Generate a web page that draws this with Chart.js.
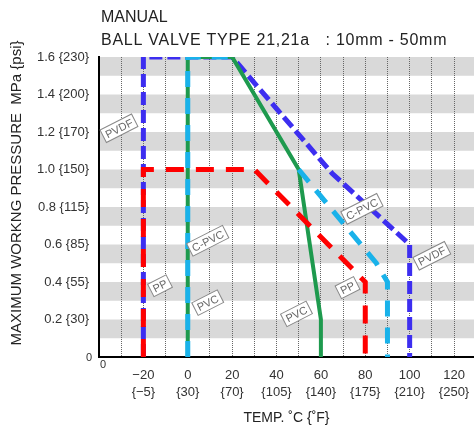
<!DOCTYPE html>
<html>
<head>
<meta charset="utf-8">
<script src="https://cdn.jsdelivr.net/npm/chart.js@4.4.1/dist/chart.umd.min.js"></script>
<style>
  html, body { margin: 0; padding: 0; background: #fff; }
  #wrap { width: 474px; height: 428px; }
</style>
</head>
<body>
<div id="wrap"><canvas id="chart"></canvas></div>
<script>
// breakpoints: temperature (C) and pressure (MPa)
const ppTemp = [-20, -20, 30, 80, 80];
const ppPress = [0, 1.0, 1.0, 0.4, 0];
// C-PVC runs under the PVC line between 20 and 50 C, so it has a gap there
const cpvcTemp = [0, 0, 20, 35, 50, 85, 90, 90];
const cpvcPress = [0, 1.6, 1.6, null, 1.0, 0.5, 0.4, 0];
const pvcTemp = [0, 0, 20, 50, 60, 60];
const pvcPress = [0, 1.6, 1.6, 1.0, 0.2, 0];
const pvdfTemp = [-20, -20, 20, 65, 100, 100];
const pvdfPress = [0, 1.6, 1.6, 0.98, 0.6, 0];

const yTicks = [0.2, 0.4, 0.6, 0.8, 1.0, 1.2, 1.4, 1.6];
const yTickLabels = ['0.2 {30}', '0.4 {55}', '0.6 {85}', '0.8 {115}', '1.0 {150}', '1.2 {170}', '1.4 {200}', '1.6 {230}'];
const xTicks = [-20, 0, 20, 40, 60, 80, 100, 120];
const xTickF = ['{−5}', '{30}', '{70}', '{105}', '{140}', '{175}', '{210}', '{250}'];

// material tags placed next to the curves
const tagNames = ['PVDF', 'C-PVC', 'PP', 'PVC', 'PVC', 'PP', 'C-PVC', 'PVDF'];
const tagTemp = [-31, 9, -12.5, 9, 49, 72, 78.5, 110];
const tagPress = [1.22, 0.62, 0.38, 0.29, 0.23, 0.37, 0.79, 0.54];

const FONT = "'Liberation Sans', Arial, sans-serif";

function pts(xs, ys) {
    return xs.map((x, i) => ({ x: x, y: ys[i] }));
}

// grey stripes: each 0.2 step, the upper half
const bands = {
    id: 'bands',
    beforeDraw(chart) {
        const { ctx, chartArea: a, scales: { y } } = chart;
        ctx.save();
        ctx.fillStyle = '#d9d9d9';
        yTicks.forEach(v => {
            const t = y.getPixelForValue(v);
            const b = y.getPixelForValue(v - 0.1);
            ctx.fillRect(a.left, t, a.right - a.left, b - t);
        });
        ctx.restore();
    }
};

const tags = {
    id: 'tags',
    afterDatasetsDraw(chart) {
        const { ctx, scales: { x, y } } = chart;
        ctx.save();
        ctx.font = '11px ' + FONT;
        ctx.textAlign = 'center';
        ctx.textBaseline = 'middle';
        tagNames.forEach((name, i) => {
            const px = x.getPixelForValue(tagTemp[i]);
            const py = y.getPixelForValue(tagPress[i]);
            const w = ctx.measureText(name).width + 6;
            const h = 14;
            ctx.save();
            ctx.translate(px, py);
            ctx.rotate(-27 * Math.PI / 180);
            ctx.fillStyle = '#fff';
            ctx.fillRect(-w / 2, -h / 2, w, h);
            ctx.strokeStyle = '#888';
            ctx.lineWidth = 1;
            ctx.strokeRect(-w / 2, -h / 2, w, h);
            ctx.fillStyle = '#666';
            ctx.fillText(name, 0, 1);
            ctx.restore();
        });
        ctx.restore();
    }
};

const texts = {
    id: 'texts',
    afterDraw(chart) {
        const { ctx, chartArea: a } = chart;
        ctx.save();
        ctx.fillStyle = '#222';
        ctx.textBaseline = 'alphabetic';
        ctx.textAlign = 'left';
        ctx.font = '16px ' + FONT;
        ctx.fillText('MANUAL', a.left + 2, 22);
        ctx.letterSpacing = '0.75px';
        ctx.fillText('BALL VALVE TYPE 21,21a   : 10mm - 50mm', a.left + 2, 45);
        ctx.letterSpacing = '0px';

        ctx.font = '14px ' + FONT;
        ctx.textAlign = 'center';
        ctx.textBaseline = 'middle';
        ctx.fillText('TEMP. ˚C {˚F}', (a.left + a.right) / 2, 418);

        ctx.save();
        ctx.translate(17, 193);
        ctx.rotate(-Math.PI / 2);
        ctx.font = '15px ' + FONT;
        ctx.fillText('MAXIMUM WORKNG PRESSURE  MPa {psi}', 0, 0);
        ctx.restore();

        // the two small zeros at the origin
        ctx.font = '11px ' + FONT;
        ctx.fillStyle = '#333';
        ctx.fillText('0', 89, 358);
        ctx.fillText('0', 103, 365);
        ctx.restore();
    }
};

new Chart(document.getElementById('chart'), {
    type: 'line',
    data: {
        datasets: [
            { label: 'PP', data: pts(ppTemp, ppPress), borderColor: '#ff0000', borderWidth: 5, borderDash: [18, 12] },
            { label: 'C-PVC', data: pts(cpvcTemp, cpvcPress), borderColor: '#19b2ea', borderWidth: 5, borderDash: [16, 11], spanGaps: false },
            { label: 'PVC', data: pts(pvcTemp, pvcPress), borderColor: '#1e9a4e', borderWidth: 4 },
            { label: 'PVDF', data: pts(pvdfTemp, pvdfPress), borderColor: '#3d2ef0', borderWidth: 5, borderDash: [13, 5] }
        ]
    },
    options: {
        responsive: true,
        maintainAspectRatio: false,
        animation: false,
        layout: { padding: { top: 57, right: 0, left: 0, bottom: 0 } },
        elements: {
            point: { radius: 0 },
            line: { tension: 0, borderJoinStyle: 'miter', borderCapStyle: 'butt', fill: false }
        },
        plugins: {
            legend: { display: false },
            tooltip: { enabled: false }
        },
        scales: {
            x: {
                type: 'linear',
                min: -40,
                max: 129,
                afterFit: s => { s.height = 71; s.paddingLeft = 0; s.paddingRight = 0; },
                grid: { color: '#666', drawTicks: false, lineWidth: 1 },
                border: { color: '#000', width: 2, dash: [1, 1] },
                ticks: {
                    stepSize: 10,
                    autoSkip: false,
                    includeBounds: false,
                    maxRotation: 0,
                    padding: 10,
                    color: '#333',
                    font: { family: FONT, size: 13, lineHeight: 1.3 },
                    callback: v => {
                        const i = xTicks.indexOf(Math.round(v));
                        return i < 0 ? '' : [String(xTicks[i]).replace('-', '−'), xTickF[i]];
                    }
                }
            },
            y: {
                min: 0,
                max: 1.6,
                afterFit: s => { s.width = 99; },
                grid: { display: false },
                border: { color: '#000', width: 2 },
                ticks: {
                    stepSize: 0.2,
                    autoSkip: false,
                    padding: 2,
                    color: '#333',
                    font: { family: FONT, size: 13 },
                    callback: v => {
                        const i = yTicks.findIndex(t => Math.abs(t - v) < 1e-6);
                        return i < 0 ? '' : yTickLabels[i];
                    }
                }
            }
        }
    },
    plugins: [bands, tags, texts]
});
</script>
</body>
</html>
